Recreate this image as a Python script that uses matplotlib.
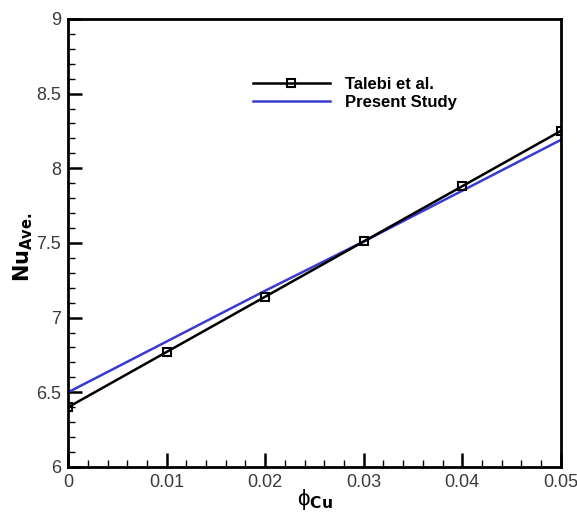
import numpy as np
import matplotlib.pyplot as plt
from matplotlib.ticker import MultipleLocator, AutoMinorLocator

plt.rcParams['font.family'] = ['Liberation Sans', 'DejaVu Sans']

# data
phi = [0.0, 0.01, 0.02, 0.03, 0.04, 0.05]
nu_talebi = [6.40, 6.77, 7.14, 7.51, 7.88, 8.25]
nu_present = [6.50, 6.84, 7.18, 7.51, 7.85, 8.19]

fig = plt.figure(figsize=(5.77, 5.12), dpi=100)
ax = fig.add_axes([0.118, 0.088, 0.854, 0.875])

ax.plot(phi, nu_talebi, color='black', lw=1.8, marker='s', ms=5.5,
        mfc='none', mec='black', mew=1.5, label='Talebi et al.', zorder=3)
ax.plot(phi, nu_present, color='#3a3ad0', lw=1.8, label='Present Study')

ax.set_xlim(0, 0.05)
ax.set_ylim(6, 9)
ax.xaxis.set_major_locator(MultipleLocator(0.01))
ax.yaxis.set_major_locator(MultipleLocator(0.5))
ax.xaxis.set_minor_locator(AutoMinorLocator(5))
ax.yaxis.set_minor_locator(AutoMinorLocator(5))
fmt = plt.FuncFormatter(lambda v, p: '%g' % round(v, 3))
ax.xaxis.set_major_formatter(fmt)
ax.yaxis.set_major_formatter(fmt)
ax.tick_params(which='both', direction='in', colors='black', labelcolor='#3a3a3a',
               labelsize=13, pad=5)
ax.tick_params(which='major', length=10, width=1.8)
ax.tick_params(which='minor', length=5, width=1)
for s in ax.spines.values():
    s.set_linewidth(2)

ax.set_xlabel('\u03d5$_{\\mathbf{Cu}}$', fontsize=16)
ax.xaxis.set_label_coords(0.5, -0.045)
ax.set_ylabel(r'$\mathbf{Nu}_{\mathbf{Ave.}}$', fontsize=15)
ax.yaxis.set_label_coords(-0.067, 0.49)

leg = ax.legend(loc='upper left', bbox_to_anchor=(0.345, 0.905), frameon=False,
                prop={'weight': 'bold', 'size': 12}, handlelength=4.6,
                handletextpad=0.9, labelspacing=0.2)

fig.savefig('out.png', dpi=100)
